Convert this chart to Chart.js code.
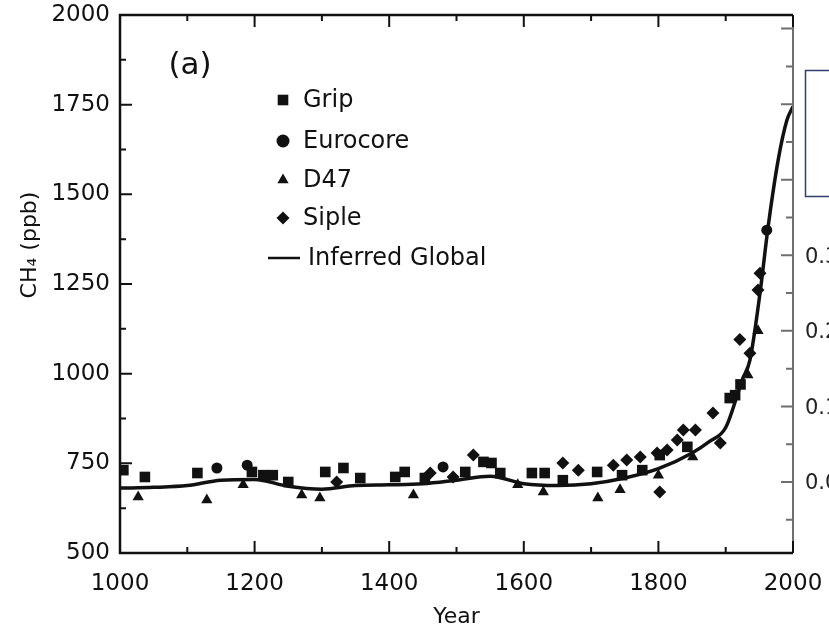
<!DOCTYPE html>
<html>
<head>
<meta charset="utf-8">
<script src="https://cdn.jsdelivr.net/npm/chart.js@4.4.1/dist/chart.umd.min.js"></script>
<style>
    body { margin: 0; background: #fff; }
    #wrap { width: 829px; height: 634px; }
</style>
</head>
<body>
<div id="wrap"><canvas id="ch4-chart"></canvas></div>
<script>
// ice core samples
let gripYears = [1005, 1037, 1115, 1196, 1213, 1227, 1250, 1305, 1332, 1357, 1409, 1423, 1453, 1513, 1540, 1552, 1565, 1612, 1631, 1658, 1709, 1746, 1776, 1802, 1843, 1906, 1914, 1922];
let gripCH4 = [731, 712, 723, 726, 717, 717, 698, 726, 737, 709, 712, 726, 709, 726, 754, 751, 723, 723, 723, 703, 726, 717, 731, 773, 796, 932, 940, 970];

let eurocoreYears = [1144, 1189, 1480, 1961];
let eurocoreCH4 = [737, 745, 740, 1400];

let d47Years = [1027, 1129, 1183, 1270, 1297, 1436, 1591, 1629, 1710, 1743, 1800, 1851, 1933, 1948];
let d47CH4 = [656, 648, 690, 662, 653, 662, 690, 670, 653, 676, 717, 768, 996, 1120];

let sipleYears = [1322, 1461, 1495, 1525, 1658, 1681, 1733, 1753, 1773, 1798, 1802, 1813, 1828, 1837, 1855, 1881, 1892, 1921, 1936, 1948, 1951];
let sipleCH4 = [698, 723, 712, 773, 751, 731, 745, 759, 768, 779, 670, 787, 815, 843, 843, 890, 807, 1095, 1057, 1233, 1280];

// inferred global curve
let globalYears = [1000, 1050, 1100, 1150, 1200, 1250, 1300, 1350, 1400, 1450, 1500, 1550, 1600, 1650, 1700, 1750, 1800, 1850, 1875, 1900, 1925, 1936, 1951, 1963, 1978, 1991, 2000];
let globalCH4 = [681, 683, 688, 703, 705, 686, 678, 688, 690, 693, 703, 714, 693, 688, 693, 709, 735, 779, 810, 850, 985, 1038, 1225, 1409, 1596, 1707, 1745];

let yearTicks = [1000, 1200, 1400, 1600, 1800, 2000];
let ch4Ticks = [500, 750, 1000, 1250, 1500, 1750, 2000];
// axis of the next panel, only the "0." part shows
let rightTicks = [0.0, 0.1, 0.2, 0.3];

let legendNames = ["Grip", "Eurocore", "D47", "Siple", "Inferred Global"];
let legendStyles = ["rect", "circle", "triangle", "rectRot"];

function toPoints(xs, ys) {
    return xs.map((x, i) => ({ x: x, y: ys[i] }));
}

Chart.defaults.font.family = "DejaVu Sans";
Chart.defaults.color = "#111";

let framePlugin = {
    id: "frame",
    afterDraw(chart) {
        let ctx = chart.ctx;
        let a = chart.chartArea;
        let xs = chart.scales.x, ys = chart.scales.y, y2 = chart.scales.y2;
        ctx.save();

        // grey axis of the panel behind
        ctx.strokeStyle = "#6f6f6f";
        ctx.lineWidth = 2;
        ctx.beginPath();
        ctx.moveTo(a.right, a.top);
        ctx.lineTo(a.right, a.bottom);
        for (let v = -0.05; v <= 0.6; v += 0.05) {
            let py = y2.getPixelForValue(v);
            let major = Math.abs(Math.round(v * 10) - v * 10) < 0.01;
            ctx.moveTo(a.right - (major ? 12 : 7), py);
            ctx.lineTo(a.right, py);
        }
        ctx.stroke();
        ctx.fillStyle = "#222";
        ctx.font = "21px 'DejaVu Sans'";
        ctx.textAlign = "left";
        ctx.textBaseline = "middle";
        rightTicks.forEach(v => {
            ctx.fillText(v.toFixed(1), a.right + 12, y2.getPixelForValue(v) + 2);
        });

        // box of the panel behind
        ctx.fillStyle = "#fff";
        ctx.fillRect(805, 70, 30, 127);
        ctx.strokeStyle = "#2e3f70";
        ctx.lineWidth = 1.5;
        ctx.strokeRect(805.5, 70.5, 40, 126);

        // frame
        ctx.strokeStyle = "#111";
        ctx.lineWidth = 2.5;
        ctx.beginPath();
        ctx.moveTo(a.right, a.top);
        ctx.lineTo(a.left, a.top);
        ctx.lineTo(a.left, a.bottom);
        ctx.lineTo(a.right, a.bottom);
        ctx.stroke();

        // inward ticks
        ctx.lineWidth = 2;
        ctx.beginPath();
        for (let yr = 1000; yr <= 2000; yr += 100) {
            let px = xs.getPixelForValue(yr);
            let len = yr % 200 === 0 ? 12 : 6;
            ctx.moveTo(px, a.bottom);
            ctx.lineTo(px, a.bottom - len);
            ctx.moveTo(px, a.top);
            ctx.lineTo(px, a.top + len);
        }
        for (let v = 500; v <= 2000; v += 125) {
            let py = ys.getPixelForValue(v);
            let len = v % 250 === 0 ? 12 : 6;
            ctx.moveTo(a.left, py);
            ctx.lineTo(a.left + len, py);
        }
        ctx.stroke();

        // panel letter
        ctx.fillStyle = "#111";
        ctx.font = "31px 'DejaVu Sans'";
        ctx.textAlign = "center";
        ctx.fillText("(a)", 190, 66);

        // legend
        ctx.font = "24px 'DejaVu Sans'";
        ctx.textAlign = "left";
        let rows = [100, 141, 180, 218];
        legendStyles.forEach((st, i) => {
            Chart.helpers.drawPoint(ctx, { pointStyle: st, radius: i === 0 ? 7.5 : 6.5, rotation: 0, borderWidth: 0 }, 283, rows[i]);
            ctx.fillText(legendNames[i], 303, rows[i] + 1);
        });
        ctx.lineWidth = 2.5;
        ctx.beginPath();
        ctx.moveTo(268, 258);
        ctx.lineTo(300, 258);
        ctx.stroke();
        ctx.fillText(legendNames[4], 308, 259);

        // y title
        ctx.translate(30, 245);
        ctx.rotate(-Math.PI / 2);
        ctx.textAlign = "center";
        ctx.font = "22px 'DejaVu Sans'";
        ctx.fillText("CH\u2084 (ppb)", 0, 0);
        ctx.restore();
    }
};

let markerSet = {
    backgroundColor: "#111",
    borderColor: "#111",
    borderWidth: 0,
    showLine: false
};

let chartInstance = new Chart(document.getElementById("ch4-chart"), {
    type: "scatter",
    data: {
        datasets: [
            Object.assign({ label: "Grip", data: toPoints(gripYears, gripCH4), pointStyle: "rect", pointRadius: 7.5 }, markerSet),
            Object.assign({ label: "Eurocore", data: toPoints(eurocoreYears, eurocoreCH4), pointStyle: "circle", pointRadius: 5.5 }, markerSet),
            Object.assign({ label: "D47", data: toPoints(d47Years, d47CH4), pointStyle: "triangle", pointRadius: 6.5 }, markerSet),
            Object.assign({ label: "Siple", data: toPoints(sipleYears, sipleCH4), pointStyle: "rectRot", pointRadius: 6.5 }, markerSet),
            {
                label: "Inferred Global",
                data: toPoints(globalYears, globalCH4),
                showLine: true,
                borderColor: "#111",
                borderWidth: 3.5,
                pointRadius: 0,
                cubicInterpolationMode: "monotone"
            }
        ]
    },
    options: {
        responsive: true,
        maintainAspectRatio: false,
        animation: false,
        layout: { padding: { top: 15, right: 36, left: 0, bottom: 0 } },
        plugins: {
            legend: { display: false },
            tooltip: { enabled: false }
        },
        scales: {
            x: {
                type: "linear",
                min: 1000,
                max: 2000,
                grid: { display: false, drawTicks: false },
                border: { display: false },
                afterBuildTicks: axis => { axis.ticks = yearTicks.map(v => ({ value: v })); },
                ticks: { font: { size: 23 }, padding: 17, color: "#111", callback: v => String(v) },
                title: { display: true, text: "Year", font: { size: 22 }, padding: { top: 6 } },
                afterFit: axis => {
                    axis.height = 81;
                    axis.paddingLeft = 0;
                    axis.paddingRight = 0;
                }
            },
            y: {
                type: "linear",
                min: 500,
                max: 2000,
                grid: { display: false, drawTicks: false },
                border: { display: false },
                afterBuildTicks: axis => { axis.ticks = ch4Ticks.map(v => ({ value: v })); },
                ticks: { font: { size: 23 }, padding: 10, color: "#111", callback: v => String(v) },
                afterFit: axis => {
                    axis.width = 120;
                    axis.paddingTop = 0;
                    axis.paddingBottom = 0;
                }
            },
            y2: {
                type: "linear",
                position: "right",
                display: false,
                min: -0.094,
                max: 0.618
            }
        }
    },
    plugins: [framePlugin]
});
</script>
</body>
</html>
